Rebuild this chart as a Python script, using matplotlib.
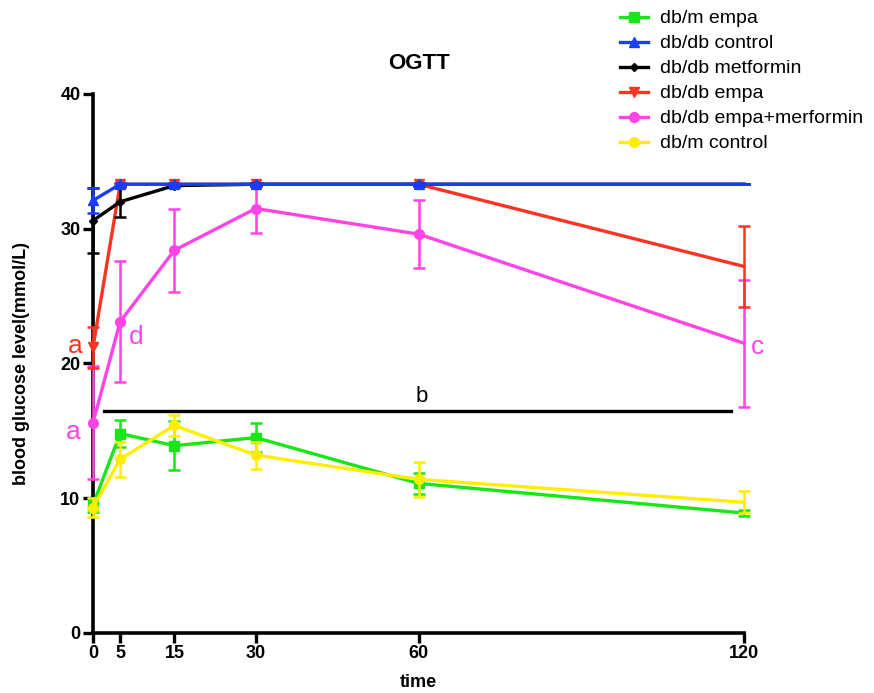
import matplotlib
matplotlib.use("Agg")
import matplotlib.pyplot as plt
from matplotlib.lines import Line2D

plt.rcParams['font.family'] = ['Liberation Sans', 'DejaVu Sans']

time = [0, 5, 15, 30, 60, 120]
xtick_labels = ["0", "5", "15", "30", "60", "120"]

series_names = ["db/m empa", "db/db control", "db/db metformin", "db/db empa",
                "db/db empa+merformin", "db/m control"]

dbm_empa = [9.5, 14.8, 13.9, 14.5, 11.1, 8.9]
dbm_empa_err = [0.5, 1.0, 1.8, 1.1, 0.8, 0.2]

dbdb_control = [32.1, 33.3, 33.3, 33.3, 33.3, 33.3]
dbdb_control_err = [0.9, 0.1, 0.1, 0.1, 0.1, 0.0]

dbdb_metformin = [30.6, 32.0, 33.2, 33.3, 33.3, 33.3]
dbdb_metformin_err = [2.4, 1.1, 0.1, 0.1, 0.1, 0.0]

dbdb_empa = [21.2, 33.3, 33.3, 33.3, 33.3, 27.2]
dbdb_empa_err = [1.5, 0.1, 0.1, 0.1, 0.1, 3.0]

dbdb_empa_met = [15.6, 23.1, 28.4, 31.5, 29.6, 21.5]
dbdb_empa_met_err = [4.2, 4.5, 3.1, 1.8, 2.5, 4.7]

dbm_control = [9.3, 12.9, 15.4, 13.2, 11.4, 9.7]
dbm_control_err = [0.7, 1.3, 0.8, 1.0, 1.3, 0.8]

colors = ["#19e619", "#1a3cff", "#000000", "#ff3322", "#ff44e6", "#ffee00"]
markers = ["s", "^", "D", "v", "o", "o"]
msizes = [7, 7, 4, 7, 7, 7]

values = [dbm_empa, dbdb_control, dbdb_metformin, dbdb_empa, dbdb_empa_met, dbm_control]
errors = [dbm_empa_err, dbdb_control_err, dbdb_metformin_err, dbdb_empa_err,
          dbdb_empa_met_err, dbm_control_err]
zorders = [6, 5, 4, 3.5, 3, 7]

fig = plt.figure(figsize=(8.74, 6.93), dpi=100)
ax = fig.add_axes([0.1064, 0.0866, 0.745, 0.7778])

handles = []
for name, v, e, c, m, ms, z in zip(series_names, values, errors, colors, markers, msizes, zorders):
    ax.errorbar(time, v, yerr=e, color=c, marker=m, markersize=ms, lw=2.4,
                elinewidth=1.8, capsize=4.5, capthick=1.8, zorder=z, clip_on=False,
                markevery=list(range(len(time) - 1)))
    handles.append(Line2D([], [], color=c, marker=m, markersize=ms, lw=2.4))

# significance bar
ax.plot([2, 117.5], [16.5, 16.5], color="black", lw=2.4, zorder=8, clip_on=False)
ax.text(60.5, 16.8, "b", fontsize=16, ha="center", va="bottom", color="black")

ax.text(-3.3, 21.3, "a", fontsize=19, color="#ff3322", ha="center", va="center")
ax.text(-3.7, 14.9, "a", fontsize=19, color="#ff44e6", ha="center", va="center")
ax.text(8.0, 22.0, "d", fontsize=19, color="#ff44e6", ha="center", va="center")
ax.text(122.5, 21.2, "c", fontsize=19, color="#ff44e6", ha="center", va="center")

ax.set_xlim(0, 120)
ax.set_ylim(0, 40)
ax.set_xticks(time)
ax.set_xticklabels(xtick_labels)
ax.set_yticks([0, 10, 20, 30, 40])

for s in ["top", "right"]:
    ax.spines[s].set_visible(False)
for s in ["left", "bottom"]:
    ax.spines[s].set_linewidth(2.6)
ax.tick_params(axis="both", width=2.4, length=7, direction="out", labelsize=13, pad=2)
for lab in ax.get_xticklabels() + ax.get_yticklabels():
    lab.set_fontweight("bold")

ax.set_xlabel("time", fontsize=13, fontweight="bold", labelpad=8)
ax.set_ylabel("blood glucose level(mmol/L)", fontsize=13, fontweight="bold", labelpad=22)
ax.set_title("OGTT", fontsize=16, fontweight="bold", pad=18)

leg = fig.legend(handles, series_names, loc="upper left", bbox_to_anchor=(0.709, 0.986),
                 frameon=False, fontsize=14, handlelength=1.45, labelspacing=0.38,
                 handletextpad=0.6, borderaxespad=0.0, borderpad=0.0)

fig.savefig("out.png", dpi=100)
